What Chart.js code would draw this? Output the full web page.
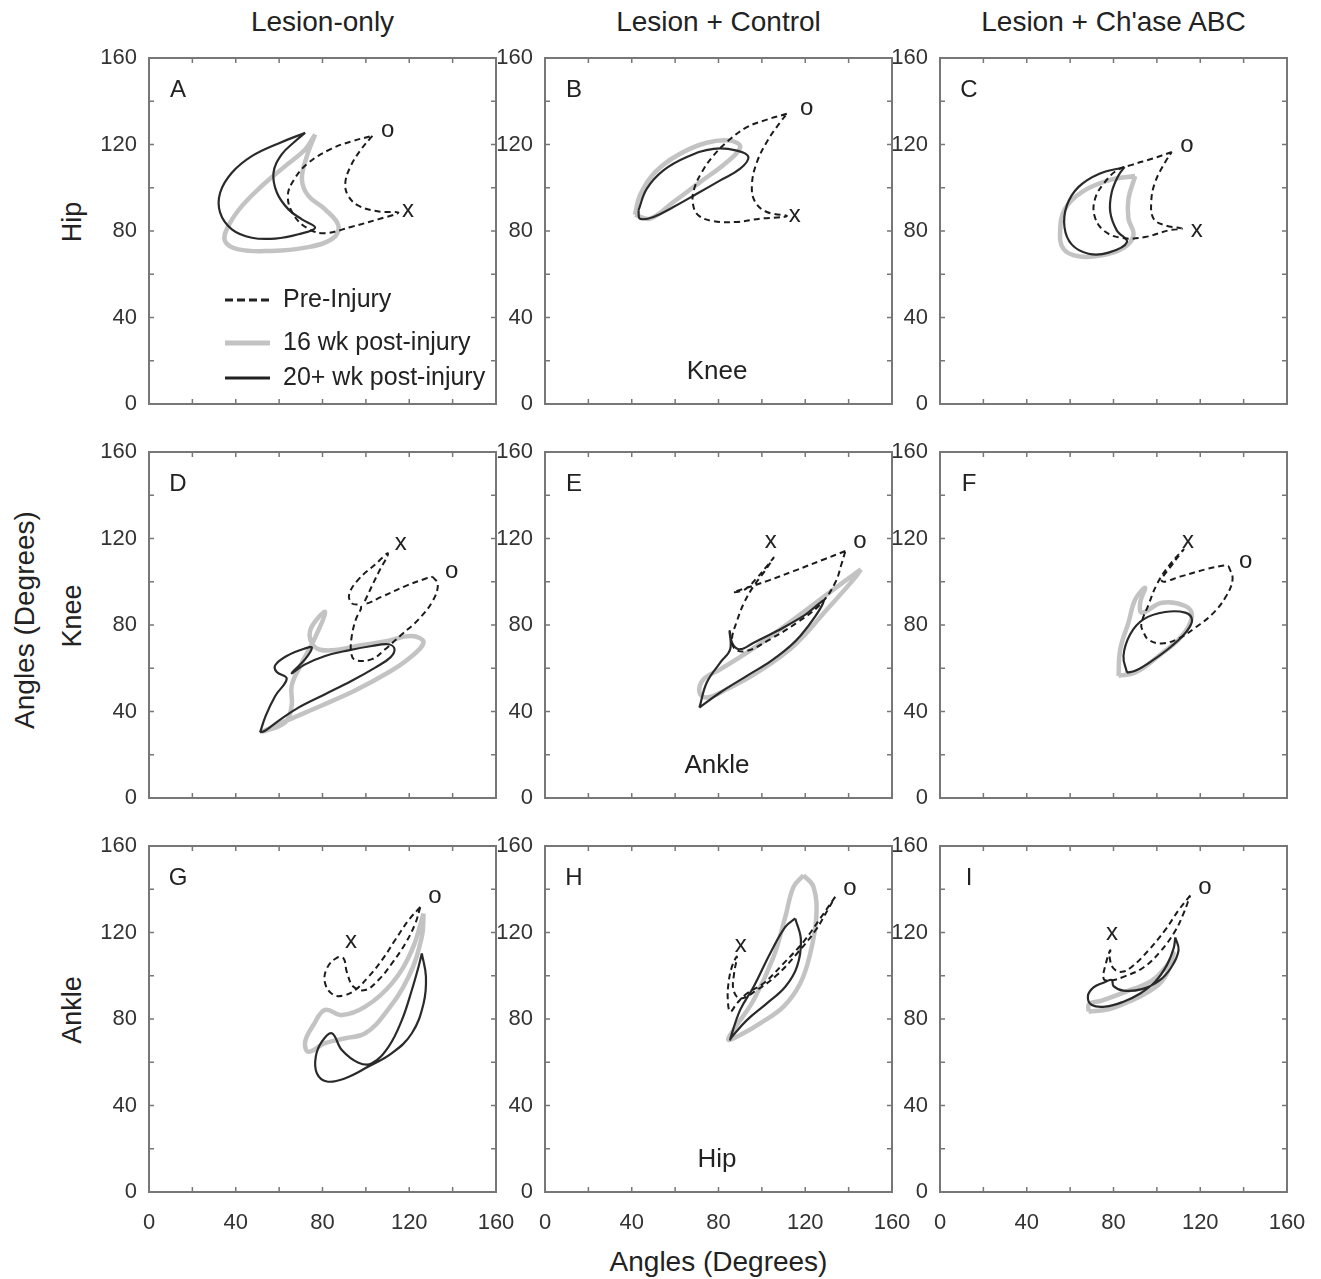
<!DOCTYPE html>
<html>
<head>
<meta charset="utf-8">
<script src="https://cdn.jsdelivr.net/npm/chart.js@4.4.0/dist/chart.umd.min.js"></script>
<style>
  body { margin: 0; background: #fff; font-family: "Liberation Sans", Arial, sans-serif; color: #222; }
  #fig { position: relative; width: 1321px; height: 1279px; overflow: hidden; }
  canvas { position: absolute; }
  .lbl { position: absolute; font-size: 26px; white-space: nowrap; transform: translate(-50%, -50%); }
  .rot { transform: translate(-50%, -50%) rotate(-90deg); }
</style>
</head>
<body>
<div id="fig"></div>
<script>
// ---- labels ----
const columnTitles = ["Lesion-only", "Lesion + Control", "Lesion + Ch'ase ABC"];
const rowJoints = ["Hip", "Knee", "Ankle"];     // y variable of each row
const xJoints = ["Knee", "Ankle", "Hip"];       // x variable of each row (shown in middle column)
const panelLetters = ["A", "B", "C", "D", "E", "F", "G", "H", "I"];
const seriesNames = ["Pre-Injury", "16 wk post-injury", "20+ wk post-injury"];
const tickValues = [0, 40, 80, 120, 160];
const axisTitle = "Angles (Degrees)";

// ---- angle-angle loops, [x, y] in degrees ----
// A: knee vs hip, lesion-only
const preA = [[103,124],[98,118],[93,110],[90.5,102],[92,96],[97,91.5],[106,89],[115,88.5],[106,85.5],[93.5,82],[81,79],[73.5,81],[67,87],[64,96],[67,104],[73.5,111.5],[84,118],[93.5,121.5]];
const wk16A = [[76.6,124.6],[72,117.7],[62.8,110],[52,100.8],[42.8,91.5],[36.6,82.3],[35,75.4],[41.2,71.5],[56.6,70.8],[72,72.3],[84.3,76.2],[87.4,82.3],[81.2,90],[73.5,96.2],[70.5,103.8],[72.8,114.6]];
const wk20A = [[72,125.4],[59.7,120.5],[47.4,114.6],[38.2,106.9],[32.8,97.7],[32.8,88.5],[38.2,80.8],[47.4,76.9],[58.2,76.5],[68.9,78.5],[76.6,81.5],[70.5,85.4],[64.3,90],[59,97.7],[57.4,106.9],[61.2,115.4],[67.4,121.5]];
const marksA = [["o",110.1,126.6],["x",119.4,89.6]];

// B: knee vs hip, lesion + control
const preB = [[111.5,134.2],[102.3,131.5],[93.1,128],[84.6,121.8],[77.7,114.9],[72.3,107.2],[68.8,99.5],[68.2,92.6],[70.8,87.2],[77.7,84.6],[88.5,84.2],[99.2,85.7],[111.5,86.9],[102.3,88.8],[96.9,93.4],[95.4,101.1],[97.7,111.8],[103.1,122.6],[108.5,130.3]];
const wk16B = [[41.5,87.5],[43.8,96.6],[50.8,107.2],[62.3,115.7],[74.6,120.8],[85.4,121.8],[90,118.8],[83.8,111.8],[71.5,102.6],[59.2,93.4],[48.5,85.7]];
const wk20B = [[43.1,89.5],[46.9,99.5],[54.6,108],[65.4,114.2],[77.7,118],[88.5,117.2],[93.8,114.2],[90,108.8],[80.8,103.4],[70,97.2],[59.2,91.1],[50,86.5],[43.8,85.7]];
const marksB = [["o",120.7,136.7],["x",115.2,87.3]];

// C: knee vs hip, lesion + Ch'ase ABC
const preC = [[106.9,116.5],[97.7,113.4],[88.5,110.6],[81.5,108],[75.4,101.8],[71.5,94.9],[71.2,87.2],[75.4,80.3],[83.8,76.8],[94.6,77.2],[105.4,80.3],[111.5,81.1],[103.8,82.6],[98.5,85.7],[97.4,93.4],[99.2,102.6],[103.8,111.8]];
const wk16C = [[90,105.4],[77.7,103.4],[65.4,98],[57.7,90.3],[55.4,80.3],[56.9,71.8],[63.8,68.3],[74.6,68.8],[84.6,72.2],[89.2,78],[86.9,85.7],[86.9,94.9]];
const wk20C = [[85.1,109.5],[73.5,106.5],[63.8,100.3],[58.5,91.8],[57.4,81.8],[60.8,73.7],[68.5,69.5],[77.7,70],[86.2,74.9],[81.5,80.3],[78.5,88.8],[79.2,98],[82.3,105.7]];
const marksC = [["o",113.8,119.6],["x",118.4,80.4]];

// D: ankle vs knee, lesion-only
const preD = [[130.8,102.3],[133.2,98.8],[130.8,91.1],[124.3,82.6],[116.6,75.7],[108.9,68.8],[102.8,64.2],[95.1,63.8],[93.2,67.2],[93.5,74.9],[95.4,82.6],[97.8,88.8],[93.5,90],[92.3,94.2],[96.6,101.1],[104.3,108],[110.2,113.1],[105.8,104.2],[101.5,95.2],[99.7,90],[107.4,93.1],[118.2,98],[127.4,101.4]];
const wk16D = [[52,30.5],[64,36],[79.7,42.8],[95,49.7],[108.9,57.2],[119.7,64.4],[126.6,72],[121,74.9],[110,72.6],[97,70.5],[84.3,68.3],[76.5,69.8],[74.3,77.4],[81.2,86],[76.5,74],[70,61.5],[65.8,52],[65.8,42.8],[62.8,35]];
const wk20D = [[51.2,30.3],[53.8,38],[58.2,47.2],[63.5,55.2],[58.9,58.3],[58.2,61.4],[63.5,65.7],[72,69.2],[75.1,69.5],[72,64.2],[65.8,57.7],[72,61.8],[81.2,65.7],[92,68.3],[102.8,70.3],[110.5,71.1],[113.2,68.8],[111.2,64.9],[104.3,60.3],[93.5,54.2],[81.2,48],[68.9,41.8],[59.7,35.7],[53.5,31.1]];
const marksD = [["o",139.6,104.8],["x",116.1,117.8]];

// E: ankle vs knee, lesion + control
const preE = [[138.5,114.2],[128.5,110.3],[114.6,104.9],[102.3,100.3],[93.1,97.2],[86.9,95.2],[92.3,96.5],[97.7,101.8],[102.3,107.2],[105.4,111.1],[100.8,104.2],[96.2,98],[91.8,90.3],[88.5,81.8],[86.2,73.4],[87.7,68.8],[93.1,68],[103.8,73.4],[116.2,81.1],[126.9,89.5],[133.8,99.5],[136.9,108.8]];
const wk16E = [[145.7,105.7],[136.2,98.8],[123.8,89.5],[108.5,78],[93.1,67.2],[80.8,59.5],[73.1,54.9],[71.2,48.8],[74.6,46.5],[83.8,50.3],[97.7,58],[114.6,70.3],[130,87.2],[142.3,101.1]];
const wk20E = [[71.2,41.8],[80.8,48.8],[93.1,56.5],[105.4,64.2],[117.7,74.9],[128.5,91.1],[119.2,84.2],[106.9,77.2],[96.2,71.8],[90,68.8],[86.6,71.1],[85.1,77.2],[85.4,68.8],[80.8,62.6],[74.6,53.4]];
const marksE = [["o",145.2,118.7],["x",104.1,118.7]];

// F: ankle vs knee, lesion + Ch'ase ABC
const preF = [[133.1,107.2],[134.9,101.1],[131.5,92.6],[125.4,84.9],[117.7,78.8],[110,73.7],[102.3,71.5],[96.2,73.1],[93.8,76.8],[92.8,80.3],[96.2,89.5],[100,98.8],[105.4,107.2],[112.3,114.9],[107.7,108.8],[102.3,100.3],[111.5,102.6],[122.3,105.7],[130.8,107.5]];
const wk16F = [[82.3,56.5],[83.1,68.8],[86.9,81.1],[90,91.8],[94.6,97.2],[92.3,90.3],[93.1,85.7],[102.3,90.3],[113.1,88.8],[116.2,84.2],[111.5,74.9],[100.8,65.7],[90,58]];
const wk20F = [[86.2,58],[84.6,65.7],[87.7,75.7],[93.8,82.6],[103.8,86],[113.1,85.7],[116.2,82.3],[113.8,77.2],[106.9,70.3],[97.7,63.4],[90,58.8]];
const marksF = [["o",141,109.5],["x",114.3,118.7]];

// G: hip vs ankle, lesion-only
const preG = [[125.1,131.8],[119.7,125.7],[113.5,116.5],[107.4,107.2],[101.2,99.5],[95.1,93.4],[90.5,91.1],[85.1,91.1],[81.2,96.5],[82,103.4],[86.6,108.3],[89.7,108],[91.2,101.8],[94.3,94.9],[99.7,93.4],[105.8,98],[112,105.7],[118.2,114.9],[122.8,124.2]];
const wk16G = [[126.6,128.8],[121.2,111.8],[112,96.5],[99.7,85.7],[88.9,81.8],[81.2,84.2],[75.8,77.2],[72,69.5],[73.5,64.9],[81.2,68.8],[90.5,71.1],[99.7,73.4],[108.9,82.6],[119.7,99.5],[125.8,118]];
const wk20G = [[125.8,110.3],[127.7,99.5],[126.6,87.2],[121.2,73.4],[112,64.2],[101.2,58],[90.5,52.6],[82,51.1],[77.4,54.9],[76.9,62.6],[79.7,69.5],[84.3,73.4],[88.9,65.7],[96.6,59.8],[102.8,59.5],[110.5,67.2],[116.6,79.5],[121.2,93.4],[124.3,104.2]];
const marksG = [["o",131.8,136.7],["x",93.1,115.9]];

// H: hip vs ankle, lesion + control
const preH = [[133.8,136.5],[126.9,126.5],[119.2,115.7],[110,105.7],[100.8,96.5],[93.1,91.8],[88.5,87.2],[85.4,83.4],[84.3,88.8],[84.6,96.5],[86.2,104.2],[88.5,108.8],[87.2,101.1],[86.9,93.4],[90,89.5],[97.7,93.4],[106.9,100.3],[116.2,110.3],[124.6,120.8],[130.3,130.3]];
const wk16H = [[119.2,146.5],[123.8,141.1],[125.1,127.2],[122.3,110.3],[117.7,96.5],[110,85.7],[99.2,78],[90,72.6],[84.6,70.3],[86.9,74.9],[96.2,88.8],[105.4,108.8],[110.8,127.2],[114.6,141.1]];
const wk20H = [[115.4,126.5],[118,116.5],[116.2,104.2],[110.8,94.9],[102.3,87.2],[93.1,79.5],[86.2,71.8],[85.4,70.6],[90,84.2],[96.2,94.9],[103.8,110.3],[110.8,122.6]];
const marksH = [["o",140.6,140.4],["x",90.3,114.1]];

// I: hip vs ankle, lesion + Ch'ase ABC
const preI = [[115.4,137.2],[110,130.3],[103.8,121.1],[96.2,111.8],[88.5,104.2],[83.8,101.8],[80,103.4],[78.3,108],[78.5,111.8],[76.5,105.7],[75.4,98.8],[78,97.7],[84.6,99.5],[93.8,103.8],[101.5,111.1],[108.2,120.3],[112.3,128.8]];
const wk16I = [[68.5,83.4],[77.7,84.5],[86.9,88],[96.2,92.6],[103.8,99.5],[107.7,110.3],[105.4,105.7],[97.7,97.7],[86.9,93.1],[74.6,88.5],[68.8,87]];
const wk20I = [[108.5,117.7],[110,111.8],[106.6,103.8],[101.1,97.7],[93.1,93.8],[84.6,93.1],[80,95.2],[79.2,98],[75.4,96.8],[70.8,94.6],[68.2,90.6],[70,86.5],[76.2,85.7],[84.6,88],[92.3,91.8],[99.2,97.2],[104.6,104.9],[107.7,112.6]];
const marksI = [["o",122.1,140.9],["x",79.3,119.6]];

const preSeries = [preA, preB, preC, preD, preE, preF, preG, preH, preI];
const wk16Series = [wk16A, wk16B, wk16C, wk16D, wk16E, wk16F, wk16G, wk16H, wk16I];
const wk20Series = [wk20A, wk20B, wk20C, wk20D, wk20E, wk20F, wk20G, wk20H, wk20I];
const markSeries = [marksA, marksB, marksC, marksD, marksE, marksF, marksG, marksH, marksI];

// ---- layout ----
const FONT = '"Liberation Sans", Arial, sans-serif';
const colLeft = [149, 545, 940];
const rowTop = [58, 452, 846];
const PLOT_W = 347, PLOT_H = 346;
// generous padding so tick-label overflow never shrinks the plot area
const PAD_L = 70, PAD_R = 45, PAD_T = 30, PAD_B = 50;
const INK = "#222";
const FRAME = "#777";
const GRAY = "rgba(185,185,185,0.85)";

const fig = document.getElementById("fig");

function addLabel(text, x, y, size, rotate) {
    const d = document.createElement("div");
    d.className = rotate ? "lbl rot" : "lbl";
    d.textContent = text;
    d.style.left = x + "px";
    d.style.top = y + "px";
    d.style.fontSize = size + "px";
    fig.appendChild(d);
}

columnTitles.forEach((t, c) => addLabel(t, colLeft[c] + PLOT_W / 2, 22, 28));
rowJoints.forEach((t, r) => addLabel(t, 72, rowTop[r] + 164, 27, true));
addLabel(axisTitle, 25, 620, 28, true);
addLabel(axisTitle, colLeft[1] + PLOT_W / 2, 1262, 28);

function loop(arr) {
    const p = arr.map(([x, y]) => ({ x, y }));
    p.push({ x: arr[0][0], y: arr[0][1] });
    return p;
}

// frame with inward ticks every 20 degrees, plus panel texts
const panelDecor = {
    id: "panelDecor",
    afterDatasetsDraw(chart, args, opts) {
        const { ctx, chartArea: a, scales } = chart;
        ctx.save();
        ctx.strokeStyle = FRAME;
        ctx.lineWidth = 2;
        ctx.strokeRect(a.left, a.top, a.right - a.left, a.bottom - a.top);
        ctx.lineWidth = 1.5;
        for (let v = 20; v < 160; v += 20) {
            const px = scales.x.getPixelForValue(v);
            const py = scales.y.getPixelForValue(v);
            ctx.beginPath();
            ctx.moveTo(px, a.bottom); ctx.lineTo(px, a.bottom - 5);
            ctx.moveTo(px, a.top); ctx.lineTo(px, a.top + 5);
            ctx.moveTo(a.left, py); ctx.lineTo(a.left + 5, py);
            ctx.moveTo(a.right, py); ctx.lineTo(a.right - 5, py);
            ctx.stroke();
        }

        ctx.fillStyle = INK;
        ctx.textAlign = "center";
        ctx.textBaseline = "middle";
        ctx.font = "24px " + FONT;
        ctx.fillText(opts.letter, a.left + 29, a.top + 32);

        opts.marks.forEach(([t, x, y]) => {
            ctx.fillText(t, scales.x.getPixelForValue(x), scales.y.getPixelForValue(y));
        });

        if (opts.xName) {
            ctx.font = "26px " + FONT;
            ctx.fillText(opts.xName, a.left + 172, a.top + 314);
        }

        if (opts.legend) {
            const rows = [
                { dash: [8, 4], color: INK, w: 3 },
                { dash: [], color: GRAY, w: 5 },
                { dash: [], color: INK, w: 3 },
            ];
            ctx.font = "25px " + FONT;
            ctx.textAlign = "left";
            [0, 1, 2].forEach((s, i) => {
                const y = a.top + 242 + [0, 43, 78][i];
                ctx.beginPath();
                ctx.setLineDash(rows[i].dash);
                ctx.strokeStyle = rows[i].color;
                ctx.lineWidth = rows[i].w;
                ctx.moveTo(a.left + 76, y);
                ctx.lineTo(a.left + 121, y);
                ctx.stroke();
                ctx.setLineDash([]);
                ctx.fillText(seriesNames[s], a.left + 134, y);
            });
        }
        ctx.restore();
    },
};

for (let i = 0; i < 9; i++) {
    const r = Math.floor(i / 3), c = i % 3;
    const canvas = document.createElement("canvas");
    canvas.width = PAD_L + PLOT_W + PAD_R;
    canvas.height = PAD_T + PLOT_H + PAD_B;
    canvas.style.left = (colLeft[c] - PAD_L) + "px";
    canvas.style.top = (rowTop[r] - PAD_T) + "px";
    fig.appendChild(canvas);

    const tickFont = { size: 22, family: FONT };
    new Chart(canvas.getContext("2d"), {
        type: "scatter",
        data: {
            datasets: [
                {
                    label: seriesNames[0],
                    data: loop(preSeries[i]),
                    borderColor: "#1c1c1c",
                    borderWidth: 2,
                    borderDash: [6, 4],
                },
                {
                    label: seriesNames[2],
                    data: loop(wk20Series[i]),
                    borderColor: "#2a2a2a",
                    borderWidth: 2.2,
                },
                {
                    label: seriesNames[1],
                    data: loop(wk16Series[i]),
                    borderColor: GRAY,
                    borderWidth: 4.5,
                },
            ].map((d) => Object.assign(d, {
                showLine: true,
                tension: 0.4,
                pointRadius: 0,
                fill: false,
            })),
        },
        options: {
            responsive: false,
            animation: false,
            events: [],
            layout: { padding: { left: 0, right: PAD_R, top: PAD_T, bottom: 0 } },
            plugins: {
                legend: { display: false },
                tooltip: { enabled: false },
                panelDecor: {
                    letter: panelLetters[i],
                    marks: markSeries[i],
                    xName: c === 1 ? xJoints[r] : null,
                    legend: i === 0,
                },
            },
            scales: {
                x: {
                    type: "linear",
                    min: 0,
                    max: 160,
                    grid: { display: false, drawTicks: false },
                    border: { display: false },
                    afterBuildTicks: (s) => { s.ticks = tickValues.map((v) => ({ value: v })); },
                    afterFit: (s) => { s.height = PAD_B; },
                    ticks: { display: r === 2, padding: 18, color: "#333", font: tickFont },
                },
                y: {
                    type: "linear",
                    min: 0,
                    max: 160,
                    grid: { display: false, drawTicks: false },
                    border: { display: false },
                    afterBuildTicks: (s) => { s.ticks = tickValues.map((v) => ({ value: v })); },
                    afterFit: (s) => { s.width = PAD_L; },
                    ticks: { padding: 12, color: "#333", font: tickFont },
                },
            },
        },
        plugins: [panelDecor],
    });
}
</script>
</body>
</html>
